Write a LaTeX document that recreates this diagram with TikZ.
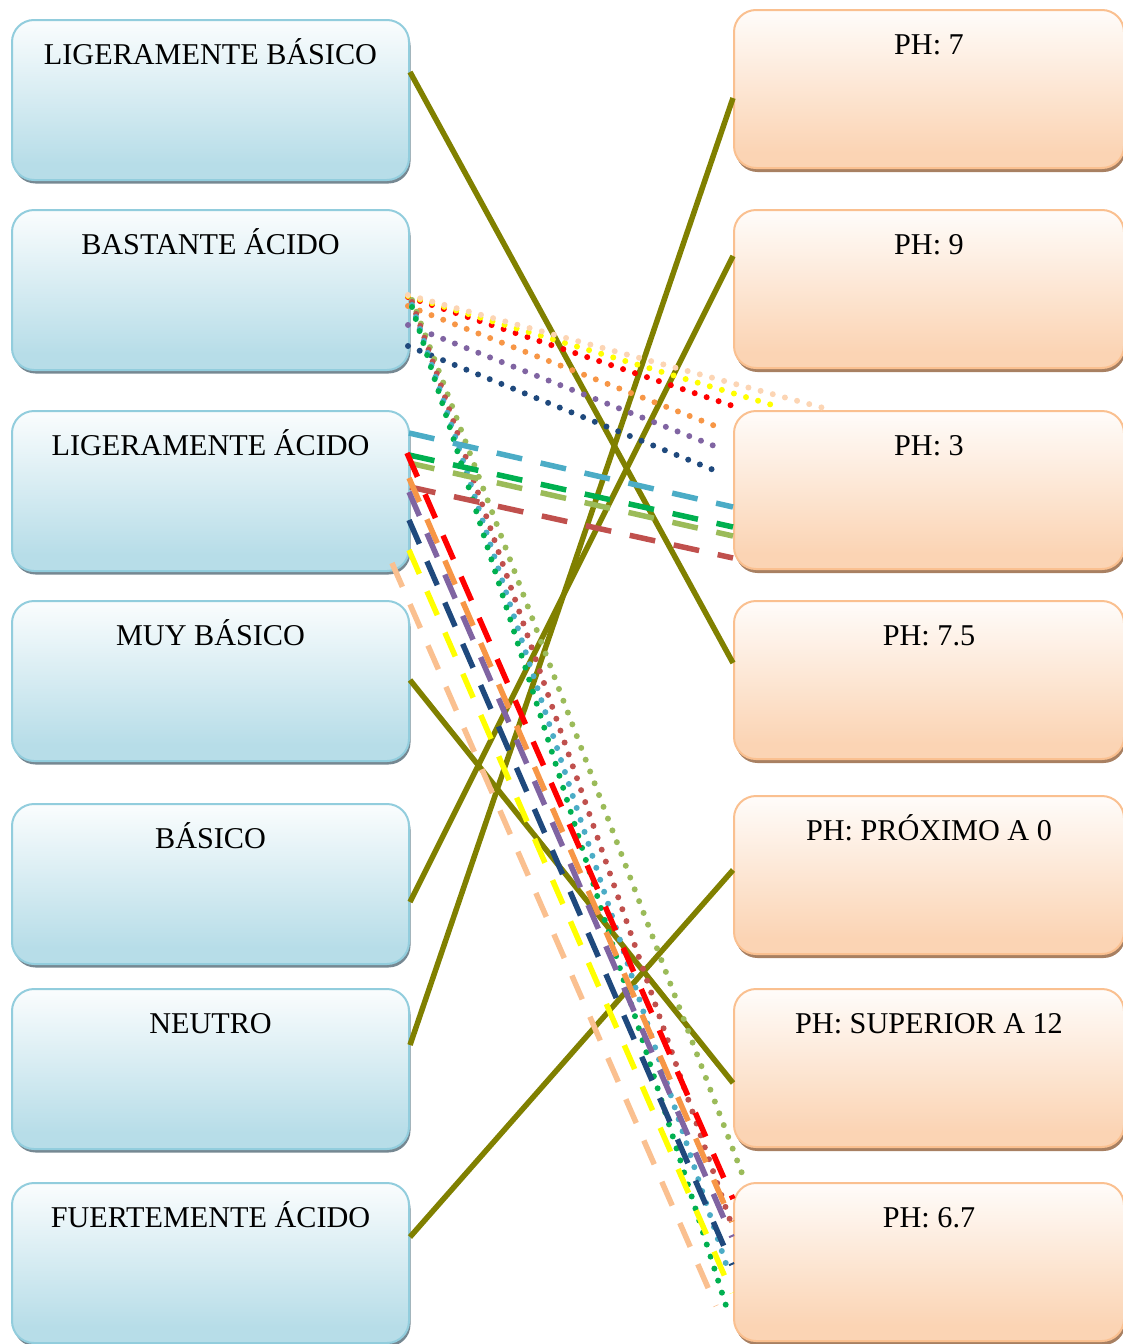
\documentclass[tikz,border=0pt]{standalone}
\usepackage{fontspec}
\setmainfont{Liberation Serif}
\usetikzlibrary{shadows}

% box colours
\definecolor{lfill}{RGB}{183,221,232}
\definecolor{ledge}{RGB}{146,205,221}
\definecolor{lshadow}{RGB}{118,136,146}
\definecolor{rfill}{RGB}{251,212,180}
\definecolor{redge}{RGB}{250,192,144}
\definecolor{rshadow}{RGB}{168,128,98}
% connector colours
\definecolor{olivel}{RGB}{128,128,0}
\definecolor{cpeach}{RGB}{250,192,144}
\definecolor{clpeach}{RGB}{252,213,180}
\definecolor{cyellow}{RGB}{255,255,0}
\definecolor{cred}{RGB}{255,0,0}
\definecolor{corange}{RGB}{247,150,70}
\definecolor{cpurple}{RGB}{128,100,162}
\definecolor{cnavy}{RGB}{31,73,125}
\definecolor{ccyan}{RGB}{75,172,198}
\definecolor{cgreen}{RGB}{0,176,80}
\definecolor{clime}{RGB}{155,187,89}
\definecolor{cbrick}{RGB}{192,80,77}

% box fills: white at the top, fading into the tint towards the bottom
\pgfdeclareverticalshading{lshade}{100bp}{color(0bp)=(lfill); color(30bp)=(lfill); color(78bp)=(white); color(100bp)=(white)}
\pgfdeclareverticalshading{rshade}{100bp}{color(0bp)=(rfill); color(30bp)=(rfill); color(78bp)=(white); color(100bp)=(white)}

\tikzset{
  lbox/.style={draw=ledge, line width=2pt, rounded corners=22pt,
    shading=lshade, minimum width=397pt,
    minimum height=160pt, anchor=north west, inner sep=0pt,
    drop shadow={shadow xshift=1.5pt, shadow yshift=-3.5pt, fill=lshadow, opacity=1}},
  rbox/.style={draw=redge, line width=2pt, rounded corners=22pt,
    shading=rshade, minimum width=390pt,
    minimum height=158pt, anchor=north west, inner sep=0pt,
    drop shadow={shadow xshift=1.5pt, shadow yshift=-4pt, fill=rshadow, opacity=1}},
  txt/.style={font=\fontsize{30.2}{33}\selectfont, anchor=base, inner sep=0pt},
  ol/.style={draw=olivel, line width=5.5pt},
  dotl/.style={line width=6pt, line cap=round, dash pattern=on 0pt off 12.6pt},
  dashl/.style={line width=5.5pt, dash pattern=on 26pt off 19pt},
}

\begin{document}
\begin{tikzpicture}[x=1pt, y=-1pt]
\useasboundingbox (0,0) rectangle (1122,1344);

% left column
\node[lbox] (b1) at (11,19) {};
\node[lbox] (b2) at (11,209) {};
\node[lbox] (b3) at (11,410) {};
\node[lbox] (b4) at (11,600) {};
\node[lbox] (b5) at (11,803) {};
\node[lbox] (b6) at (11,988) {};
\node[lbox] (b7) at (11,1182) {};

% right column
\node[rbox] (r1) at (733,9) {};
\node[rbox] (r2) at (733,209) {};
\node[rbox] (r3) at (733,410) {};
\node[rbox] (r4) at (733,600) {};
\node[rbox] (r5) at (733,795) {};
\node[rbox] (r6) at (733,988) {};
\node[rbox] (r7) at (733,1182) {};

% labels
\node[txt] (tb1) at ([yshift=-45.5pt]b1.north) {LIGERAMENTE BÁSICO};
\node[txt] (tb2) at ([yshift=-45.5pt]b2.north) {BASTANTE ÁCIDO};
\node[txt] (tb3) at ([yshift=-45.5pt]b3.north) {LIGERAMENTE ÁCIDO};
\node[txt] (tb4) at ([yshift=-45.5pt]b4.north) {MUY BÁSICO};
\node[txt] (tb5) at ([yshift=-45.5pt]b5.north) {BÁSICO};
\node[txt] (tb6) at ([yshift=-45.5pt]b6.north) {NEUTRO};
\node[txt] (tb7) at ([yshift=-45.5pt]b7.north) {FUERTEMENTE ÁCIDO};

\node[txt] (tr1) at ([yshift=-45.5pt]r1.north) {PH: 7};
\node[txt] (tr2) at ([yshift=-45.5pt]r2.north) {PH: 9};
\node[txt] (tr3) at ([yshift=-45.5pt]r3.north) {PH: 3};
\node[txt] (tr4) at ([yshift=-45.5pt]r4.north) {PH: 7.5};
\node[txt] (tr5) at ([yshift=-45.5pt]r5.north) {PH: PRÓXIMO A 0};
\node[txt] (tr6) at ([yshift=-45.5pt]r6.north) {PH: SUPERIOR A 12};
\node[txt] (tr7) at ([yshift=-45.5pt]r7.north) {PH: 6.7};

% solid olive matches
\draw[ol] ([yshift=-53pt]b1.north east) -- ([yshift=-63pt]r4.north west);
\draw[ol] ([yshift=-89pt]r1.north west) -- ([yshift=-57pt]b6.north east);
\draw[ol] ([yshift=-47pt]r2.north west) -- ([yshift=-99pt]b5.north east);
\draw[ol] ([yshift=-80pt]b4.north east) -- ([yshift=-95pt]r6.north west);
\draw[ol] ([yshift=-75pt]r5.north west) -- ([yshift=-55pt]b7.north east);

% dotted: BASTANTE ACIDO -> PH 3
\draw[dotl, cred]    ([xshift=-2pt,yshift=-88pt]b2.north east) -- ([xshift=6pt,yshift=2pt]r3.north west);
\draw[dotl, cyellow] ([xshift=-2pt,yshift=-87pt]b2.north east) -- ([xshift=46pt,yshift=3pt]r3.north west);
\draw[dotl, clpeach] ([xshift=-2pt,yshift=-86pt]b2.north east) -- ([xshift=98pt,yshift=0pt]r3.north west);
\draw[dotl, corange] ([xshift=-2pt,yshift=-97pt]b2.north east) -- ([xshift=-10pt,yshift=-19pt]r3.north west);
\draw[dotl, cpurple] ([xshift=-2pt,yshift=-116pt]b2.north east) -- ([xshift=-11pt,yshift=-39pt]r3.north west);
\draw[dotl, cnavy]   ([xshift=-2pt,yshift=-137pt]b2.north east) -- ([xshift=-12pt,yshift=-63pt]r3.north west);

% dotted: BASTANTE ACIDO -> PH 6.7
\draw[dotl, clime]  ([xshift=2pt,yshift=-91pt]b2.north east) -- ([xshift=10pt,yshift=6pt]r7.north west);
\draw[dotl, cbrick] ([xshift=2pt,yshift=-93pt]b2.north east) -- ([xshift=-3pt,yshift=-38pt]r7.north west);
\draw[dotl, ccyan]  ([xshift=2pt,yshift=-96pt]b2.north east) -- ([xshift=-4pt,yshift=-91pt]r7.north west);
\draw[dotl, cgreen] ([xshift=2pt,yshift=-98pt]b2.north east) -- ([xshift=-5pt,yshift=-130pt]r7.north west);

% dashed: LIGERAMENTE ACIDO -> PH 3
\draw[dashl, ccyan]  ([xshift=-1pt,yshift=-23pt]b3.north east) -- ([yshift=-97pt]r3.north west);
\draw[dashl, clime]  ([xshift=-1pt,yshift=-53pt]b3.north east) -- ([yshift=-126pt]r3.north west);
\draw[dashl, cgreen] ([xshift=-1pt,yshift=-45pt]b3.north east) -- ([yshift=-117pt]r3.north west);
\draw[dashl, cbrick] ([yshift=-77pt]b3.north east) -- ([yshift=-148pt]r3.north west);

% dashed: LIGERAMENTE ACIDO -> PH 6.7
\draw[dashl, cred]    ([xshift=-3pt,yshift=-43pt]b3.north east) -- ([xshift=0pt,yshift=-17pt]r7.north west);
\draw[dashl, corange] ([xshift=-1pt,yshift=-68pt]b3.north east) -- ([xshift=-1pt,yshift=-40pt]r7.north west);
\draw[dashl, cpurple] ([xshift=-1pt,yshift=-82pt]b3.north east) -- ([xshift=-1pt,yshift=-55pt]r7.north west);
\draw[dashl, cnavy]   ([xshift=-1pt,yshift=-110pt]b3.north east) -- ([xshift=-1pt,yshift=-83pt]r7.north west);
\draw[dashl, cyellow] ([xshift=-1pt,yshift=-140pt]b3.north east) -- ([xshift=-1pt,yshift=-111pt]r7.north west);
\draw[dashl, cpeach]  ([xshift=-18pt,yshift=-153pt]b3.north east) -- ([xshift=-17pt,yshift=-124pt]r7.north west);
\end{tikzpicture}
\end{document}
